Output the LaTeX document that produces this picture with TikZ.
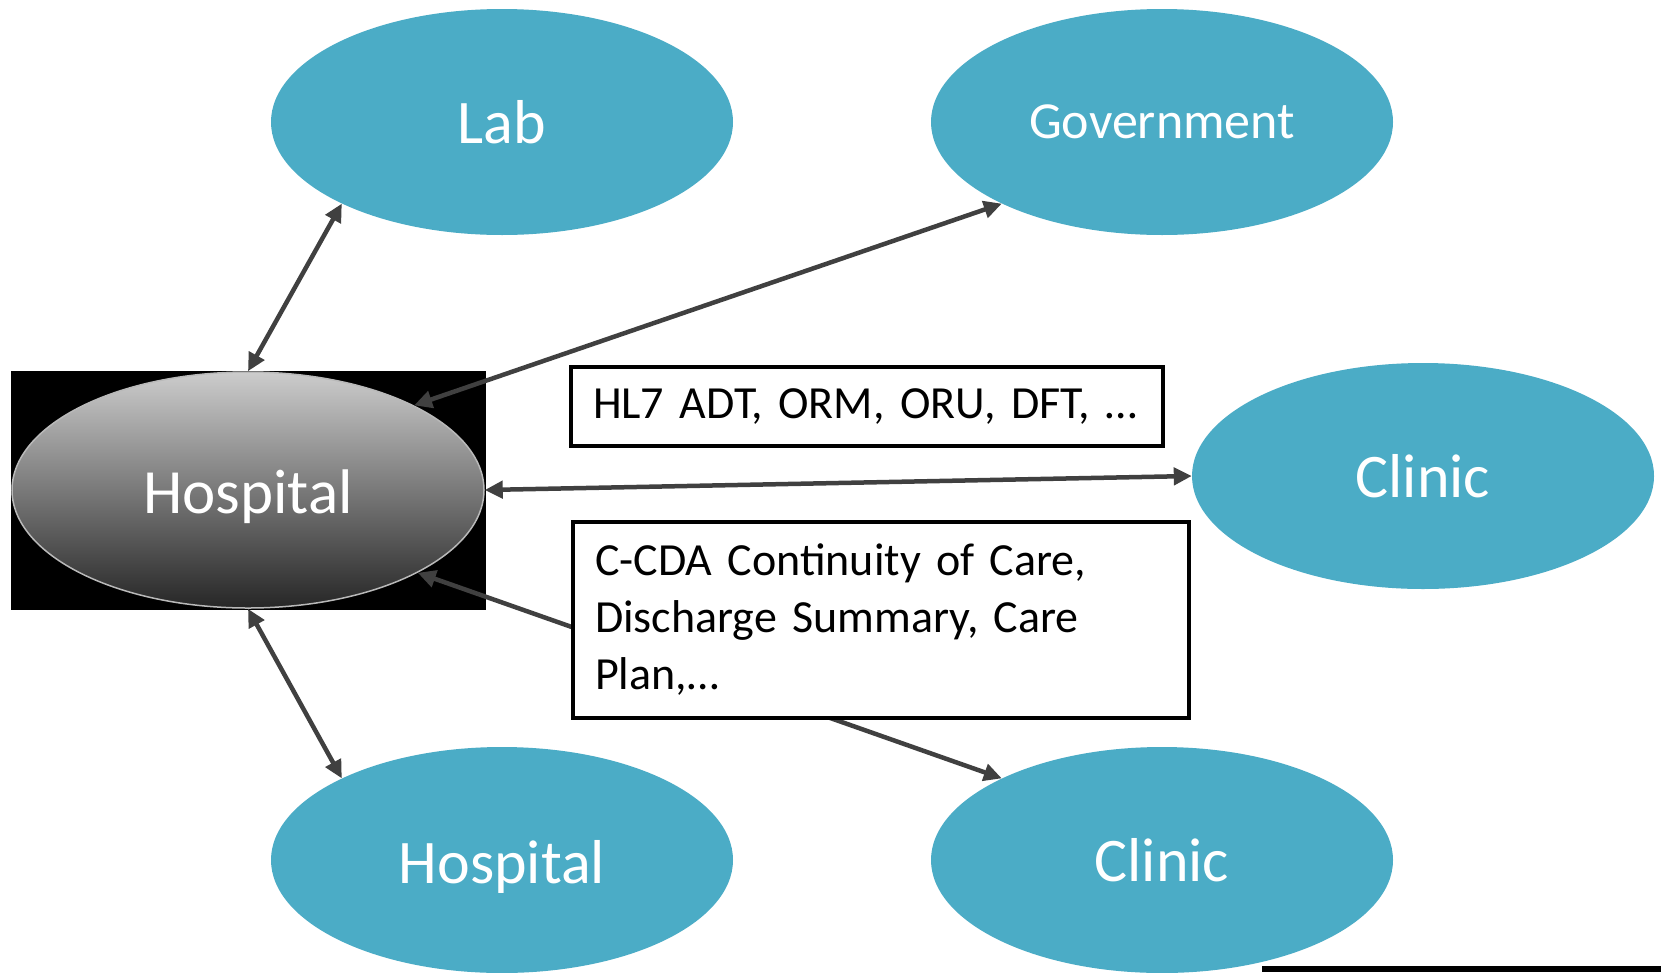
\documentclass[tikz,border=0pt]{standalone}
\usepackage{fontspec}
\setmainfont{Carlito}
\usetikzlibrary{shapes.geometric,arrows.meta}
\definecolor{tealblue}{HTML}{4BACC6}
\definecolor{arrowgray}{HTML}{404040}
\begin{document}
\begin{tikzpicture}[x=1pt,y=-1pt,
  bubble/.style={ellipse, fill=tealblue, text=white, inner sep=0pt,
    minimum width=462pt, minimum height=226pt, font=\fontsize{62}{74}\selectfont},
  lowtext/.style={text height=50pt, text depth=4pt},
  link/.style={draw=arrowgray, line width=4.5pt,
    {Triangle[length=18pt,width=17pt]}-{Triangle[length=18pt,width=17pt]}},
  msgbox/.style={draw=black, line width=4pt, fill=white, align=left,
    inner xsep=22pt, inner ysep=0pt, font=\fontsize{46}{57}\selectfont}]
\useasboundingbox (0,0) rectangle (1661,972);
\fill[white] (0,0) rectangle (1661,972);
% black backdrop of the central hospital
\fill[black] (11,371) rectangle (486,610);
\fill[black] (1262,966) rectangle (1661,972);
% nodes
\node[ellipse, inner sep=0pt, minimum width=472pt, minimum height=236pt,
  top color=gray!40, bottom color=black!85, draw=gray!55, line width=1.5pt,
  text=white, lowtext, font=\fontsize{63}{74}\selectfont] (hosp) at (248,490) {Hospital};
\node[bubble] (lab) at (502,122) {Lab};
\node[bubble, font=\fontsize{52}{62}\selectfont] (gov) at (1162,122) {Government};
\node[bubble] (clinic) at (1423,476) {Clinic};
\node[bubble, lowtext] (hosp2) at (502,860) {Hospital};
\node[bubble] (clinic2) at (1162,860) {Clinic};
% connectors
\draw[link] (lab.207) -- (hosp.north);
\draw[link] (gov.207) -- (hosp.27);
\draw[link] (hosp.east) -- (clinic.west);
\draw[link] (hosp.-26) -- (clinic2.153);
\draw[link] (hosp.south) -- (hosp2.153);
% message boxes
\node[msgbox, text width=548pt, minimum height=79pt] (hl7) at (867,406.5)
  {HL7 ADT, ORM, ORU, DFT, …};
\node[msgbox, text width=572pt, minimum height=196pt] (ccda) at (881,620)
  {C-CDA Continuity of Care,\\Discharge Summary, Care\\Plan,…};
\end{tikzpicture}
\end{document}
